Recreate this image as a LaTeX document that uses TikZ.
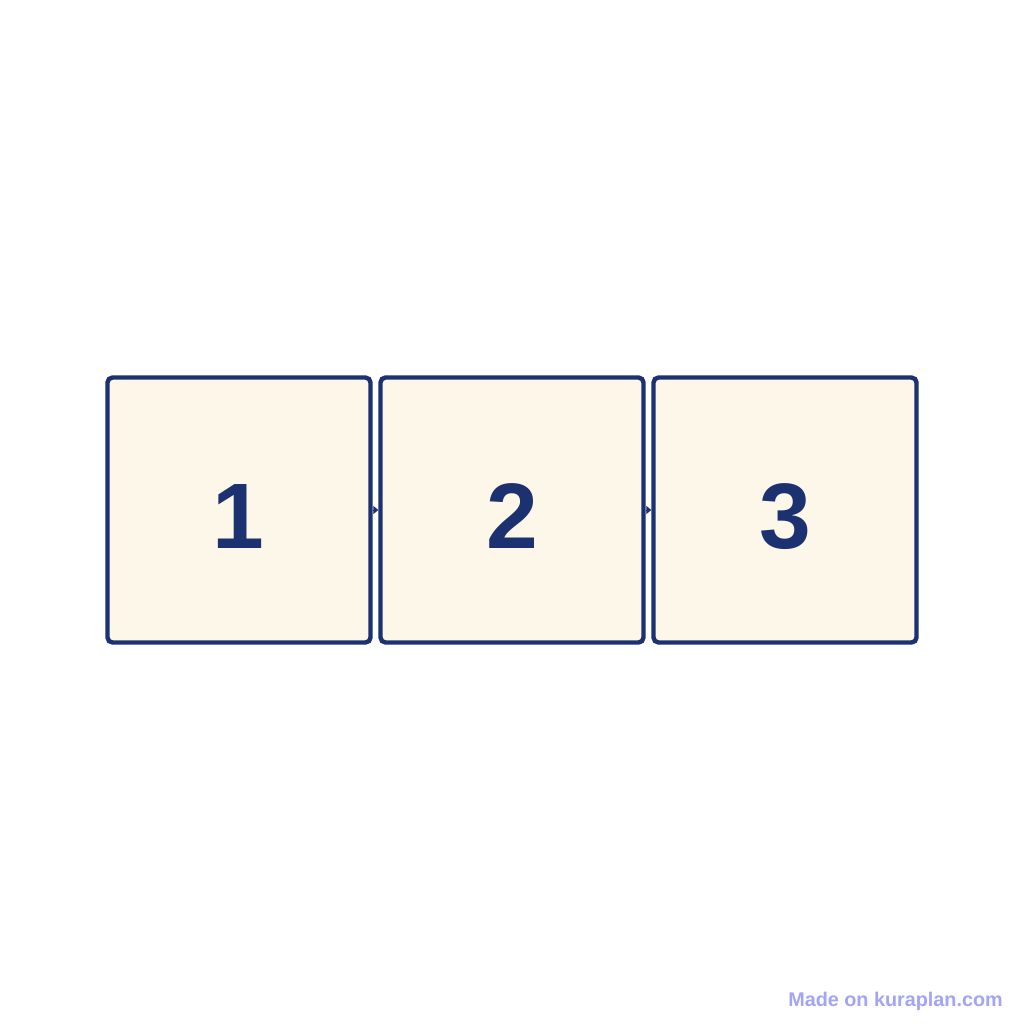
\documentclass[tikz,border=0pt]{standalone}
\usepackage{fontspec}
\setmainfont{Liberation Sans}
\usetikzlibrary{arrows.meta}
\definecolor{navy}{HTML}{1C3170}
\definecolor{cream}{HTML}{FDF7EA}
\definecolor{wm}{HTML}{A3A3F7}
\tikzset{
  stepbox/.style={draw=navy, fill=cream, line width=4.4pt, rounded corners=5pt,
    minimum width=263pt, minimum height=265pt, inner sep=0pt, outer sep=2.2pt, anchor=center},
  digit/.style={font=\fontsize{104}{110}\selectfont\bfseries, text=navy, inner sep=0pt, anchor=base},
  conn/.style={draw=navy, line width=1pt, -{Triangle[length=5pt,width=8pt]}}
}
\begin{document}
\begin{tikzpicture}[x=1pt,y=-1pt]
\useasboundingbox[fill=white] (0,0) rectangle (1024,1024);
\node[stepbox] (b1) at (239,510) {};
\node[stepbox] (b2) at (512,510) {};
\node[stepbox] (b3) at (785,510) {};
\node[digit] (d1) at (238,548) {\fontsize{93}{100}\selectfont 1};
\node[digit] (d2) at (512,548) {\fontsize{93}{100}\selectfont 2};
\node[digit] (d3) at (785,548) {\fontsize{93}{100}\selectfont 3};
\draw[conn] (b1.east) -- (b2.west);
\draw[conn] (b2.east) -- (b3.west);
\node[anchor=base east, text=wm, font=\fontsize{19.8}{22}\selectfont\bfseries, inner sep=0pt] (wmk) at (1003,1006) {Made on kuraplan.com};
\end{tikzpicture}
\end{document}
